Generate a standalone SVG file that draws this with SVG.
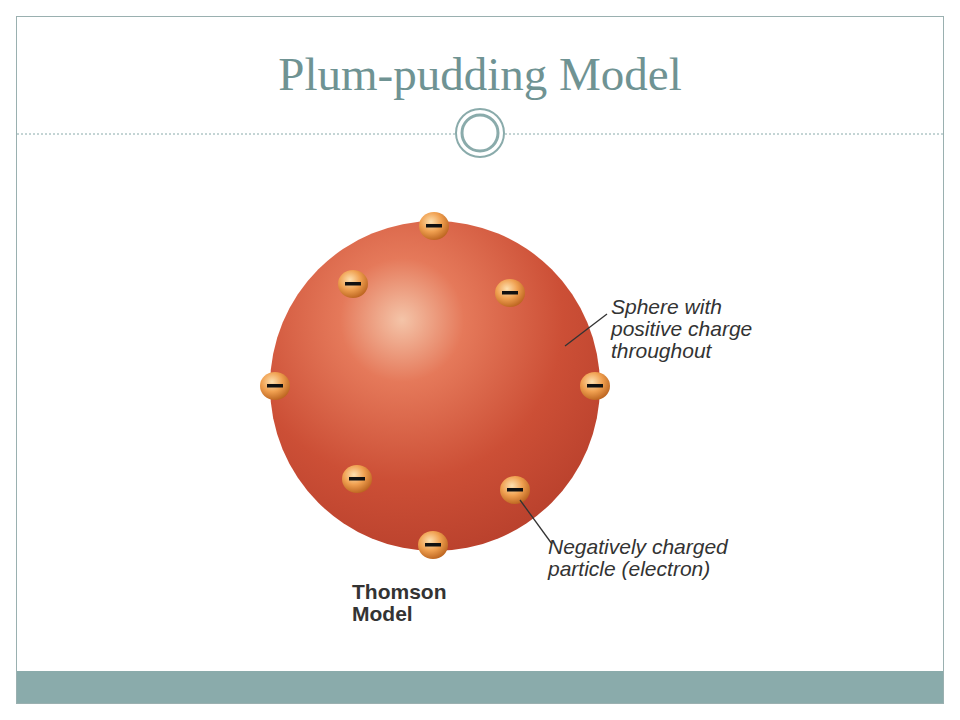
<svg xmlns="http://www.w3.org/2000/svg" width="960" height="720" viewBox="0 0 960 720">
<defs>
<radialGradient id="sph" cx="0.4" cy="0.3" r="0.75">
<stop offset="0" stop-color="#f4c4a8"/>
<stop offset="0.25" stop-color="#e5795a"/>
<stop offset="0.65" stop-color="#cc4f36"/>
<stop offset="1" stop-color="#b8402c"/>
</radialGradient>
<radialGradient id="el" cx="0.4" cy="0.35" r="0.7">
<stop offset="0" stop-color="#fde0b0"/>
<stop offset="0.5" stop-color="#f0a050"/>
<stop offset="1" stop-color="#b8601c"/>
</radialGradient>
<g id="e"><ellipse rx="15" ry="14" fill="url(#el)"/><rect x="-8" y="-2" width="16" height="3.5" fill="#111"/></g>
<style>
.lab{font-family:"Liberation Sans",Arial,sans-serif;font-size:21px;font-style:italic;fill:#333}
.bold{font-family:"Liberation Sans",Arial,sans-serif;font-size:21px;font-weight:bold;fill:#333}
</style>
</defs>
<rect width="960" height="720" fill="#fff"/>
<rect x="16.5" y="16.5" width="927" height="687" fill="none" stroke="#9ab0b0"/>
<rect x="17" y="671" width="926" height="32" fill="#8aabab"/>
<text x="480" y="90" text-anchor="middle" font-family="Liberation Serif,serif" font-size="47" fill="#6f9393">Plum-pudding Model</text>
<line x1="17" y1="134" x2="943" y2="134" stroke="#8aa" stroke-dasharray="2,2"/>
<circle cx="480" cy="133" r="24" fill="#fff" stroke="#8aabab" stroke-width="2"/>
<circle cx="480" cy="133" r="18" fill="#fff" stroke="#8aabab" stroke-width="3"/>
<g id="sphere"><circle cx="435" cy="386" r="165" fill="url(#sph)"/></g>
<g id="electrons">
<use href="#e" x="434" y="226"/><use href="#e" x="353" y="284"/><use href="#e" x="510" y="293"/>
<use href="#e" x="275" y="386"/><use href="#e" x="595" y="386"/><use href="#e" x="357" y="479"/>
<use href="#e" x="515" y="490"/><use href="#e" x="433" y="545"/>
</g>
<g id="connectors" stroke="#333" stroke-width="1.3">
<line x1="565" y1="346" x2="607" y2="314"/>
<line x1="520" y1="500" x2="552" y2="544"/>
</g>
<g id="labels">
<text class="lab"><tspan x="611" y="314">Sphere with</tspan><tspan x="611" y="336">positive charge</tspan><tspan x="611" y="358">throughout</tspan></text>
<text class="lab"><tspan x="548" y="554">Negatively charged</tspan><tspan x="548" y="576">particle (electron)</tspan></text>
<text class="bold"><tspan x="352" y="599">Thomson</tspan><tspan x="352" y="621">Model</tspan></text>
</g>
</svg>
